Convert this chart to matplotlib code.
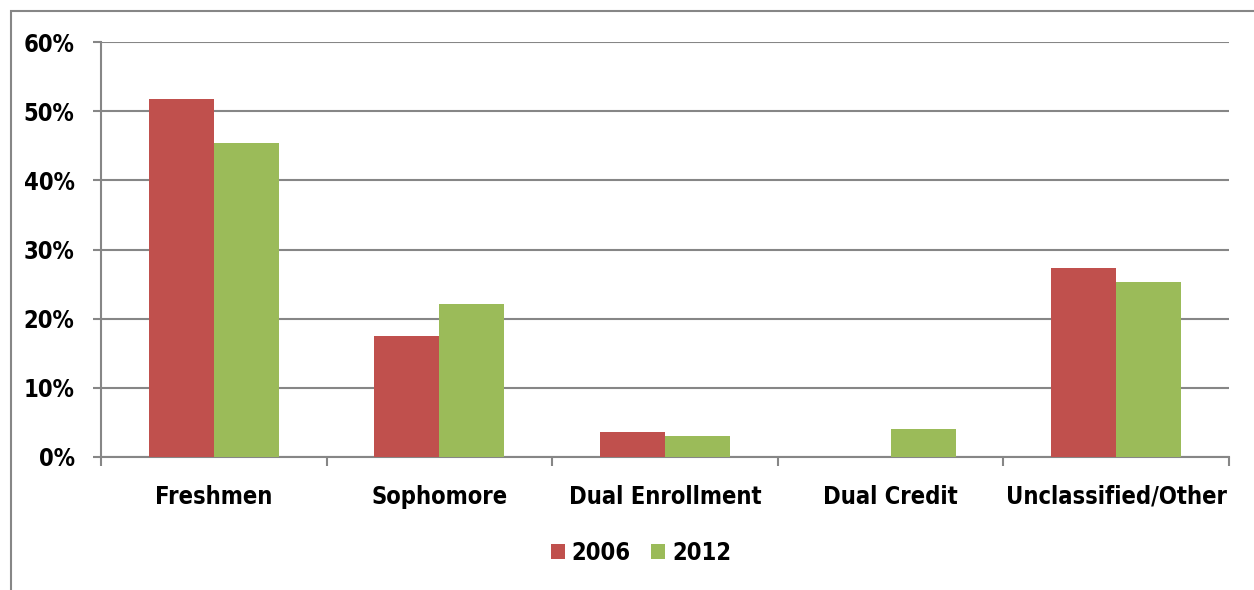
import numpy as np
import matplotlib
matplotlib.use('Agg')
import matplotlib.pyplot as plt
from matplotlib.patches import Rectangle

categories = ['Freshmen', 'Sophomore', 'Dual Enrollment', 'Dual Credit', 'Unclassified/Other']
series_names = ['2006', '2012']
values_2006 = [51.8, 17.5, 3.6, 0.0, 27.3]
values_2012 = [45.4, 22.1, 3.0, 4.0, 25.3]
y_ticks = [0, 10, 20, 30, 40, 50, 60]
y_labels = ['0%', '10%', '20%', '30%', '40%', '50%', '60%']

red = '#C0504D'
green = '#9BBB59'
grid_col = '#868686'

plt.rcParams['font.family'] = ['DejaVu Sans']
plt.rcParams['font.stretch'] = 'condensed'
plt.rcParams['font.weight'] = 'bold'

fig = plt.figure(figsize=(12.54, 5.9), dpi=100)
ax = fig.add_axes([101 / 1254, 1 - 457 / 590, (1229 - 101) / 1254, (457 - 42) / 590])

x = np.arange(len(categories))
w = 0.288
ax.bar(x - w / 2, values_2006, width=w, color=red, label=series_names[0], zorder=3)
ax.bar(x + w / 2, values_2012, width=w, color=green, label=series_names[1], zorder=3)

ax.set_xlim(-0.5, len(categories) - 0.5)
ax.set_ylim(0, 60)
ax.set_yticks(y_ticks)
ax.set_yticklabels(y_labels, fontsize=17, fontweight='bold')
ax.yaxis.grid(True, color=grid_col, linewidth=1.5, zorder=0)

ax.set_xticks(x)
ax.set_xticklabels(categories, fontsize=17, fontweight='bold')
ax.set_xticks(np.arange(-0.5, len(categories)), minor=True)
ax.tick_params(axis='x', which='major', length=0, pad=20)
ax.tick_params(axis='x', which='minor', length=6.5, color=grid_col, width=1.5)
ax.tick_params(axis='y', length=6, color=grid_col, width=1.5, pad=13)

for s in ['top', 'right']:
    ax.spines[s].set_visible(False)
for s in ['left', 'bottom']:
    ax.spines[s].set_color(grid_col)
    ax.spines[s].set_linewidth(1.5)

leg = fig.legend(loc='center', bbox_to_anchor=(641 / 1254, 1 - 553 / 590), ncol=2,
                 frameon=False, fontsize=17, handlelength=0.6, handleheight=0.6,
                 handletextpad=0.3, columnspacing=0.85)
for t in leg.get_texts():
    t.set_fontweight('bold')

# chart border (only left and top visible in crop)
fig.add_artist(Rectangle((11 / 1254, -0.1), 1.2, 1 - 11 / 590 + 0.1,
                         transform=fig.transFigure, fill=False,
                         edgecolor=grid_col, linewidth=1.5))

fig.savefig('out.png', dpi=100)
